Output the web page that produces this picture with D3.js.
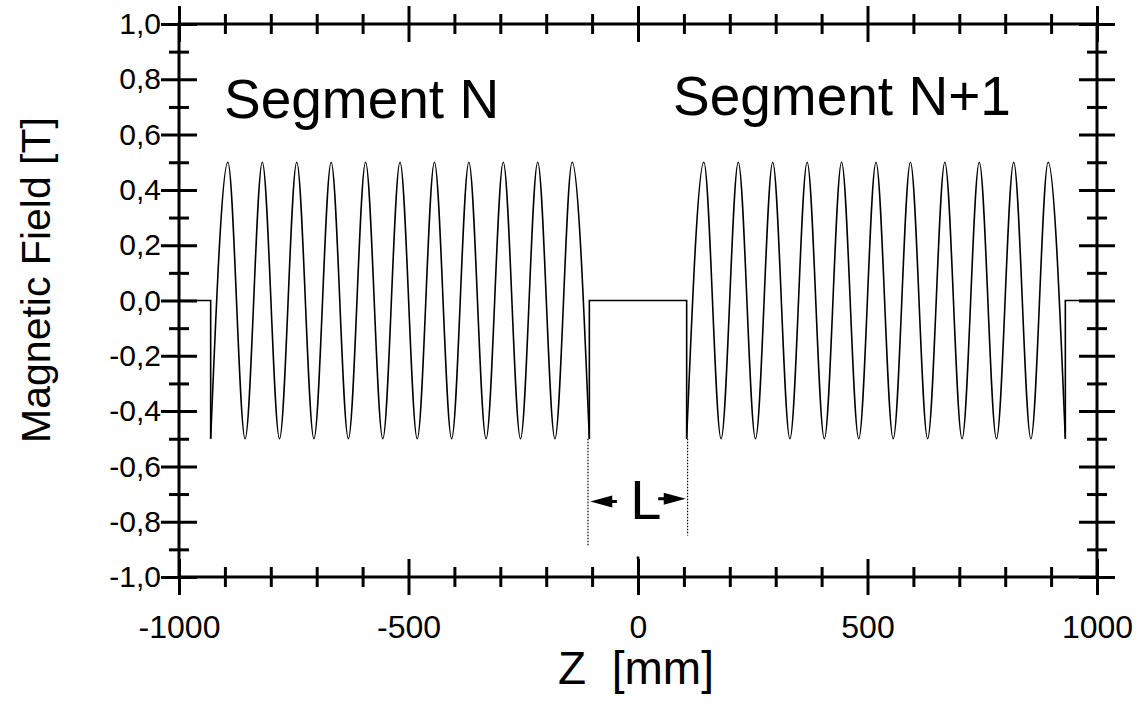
<!DOCTYPE html>
<html lang="en">
  <head>
    <meta charset="utf-8"/>
    <script src="https://d3js.org/d3.v7.min.js"></script>
    <style>
      body { margin: 0; background: #fff; }
      svg text { font-family: "Liberation Sans", Arial, sans-serif; fill: #000; }
    </style>
  </head>
  <body>
    <svg id="chart" width="1142" height="717"></svg>
  </body>
  <script>
    // field extrema (z in mm, B in T)
    const segNZ = [-931, -893.5, -856, -818.5, -781, -743.5, -706, -668.5, -631, -593.5, -556, -518.5,
                   -481, -443.5, -406, -368.5, -331, -293.5, -256, -218.5, -181, -143.5, -106];
    const segN1Z = [106, 143.5, 181, 218.5, 256, 293.5, 331, 368.5, 406, 443.5, 481, 518.5,
                    556, 593.5, 631, 668.5, 706, 743.5, 781, 818.5, 856, 893.5, 931];
    const segB = [-0.5, 0.5, -0.5, 0.5, -0.5, 0.5, -0.5, 0.5, -0.5, 0.5, -0.5, 0.5,
                  -0.5, 0.5, -0.5, 0.5, -0.5, 0.5, -0.5, 0.5, -0.5, 0.5, -0.5];
    // field-free parts: [z, B] corners
    const gapLeft = [[-1000, 0], [-931, 0], [-931, -0.5]];
    const gapMid = [[-106, -0.5], [-106, 0], [106, 0], [106, -0.5]];
    const gapRight = [[931, -0.5], [931, 0], [1000, 0]];

    const xMajor = [-1000, -500, 0, 500, 1000];
    const xMinor = [-900, -800, -700, -600, -400, -300, -200, -100, 100, 200, 300, 400, 600, 700, 800, 900];
    const yMajor = [-1, -0.8, -0.6, -0.4, -0.2, 0, 0.2, 0.4, 0.6, 0.8, 1];
    const yMinor = [-0.9, -0.7, -0.5, -0.3, -0.1, 0.1, 0.3, 0.5, 0.7, 0.9];
    const yLabels = ["-1,0", "-0,8", "-0,6", "-0,4", "-0,2", "0,0", "0,2", "0,4", "0,6", "0,8", "1,0"];

    const svg = d3.select("#chart");
    const x = d3.scaleLinear().domain([-1000, 1000]).range([179, 1097]);
    const y = d3.scaleLinear().domain([-1, 1]).range([577, 24]);

    const majorLen = 18, minorLen = 10;

    // draws one side: ticks crossing the frame line
    function side(axisFn, scale, values, len, transform, labels) {
      const ax = axisFn(scale).tickValues(values).tickSize(len);
      if (labels) ax.tickFormat((d, i) => labels[i]);
      else ax.tickFormat("");
      const g = svg.append("g").attr("transform", transform).call(ax);
      g.select(".domain").remove();
      const vertical = (axisFn === d3.axisLeft || axisFn === d3.axisRight);
      g.selectAll(".tick line")
        .attr("stroke", "#000").attr("stroke-width", 3)
        .attr(vertical ? "x1" : "y1", -len).attr(vertical ? "x2" : "y2", len);
      return g;
    }

    const left = side(d3.axisLeft, y, yMajor, majorLen, `translate(${x(-1000)},0)`, yLabels);
    left.selectAll(".tick text").attr("x", -18).attr("font-size", 30);
    side(d3.axisLeft, y, yMinor, minorLen, `translate(${x(-1000)},0)`, null);
    side(d3.axisRight, y, yMajor, majorLen, `translate(${x(1000)},0)`, null);
    side(d3.axisRight, y, yMinor, minorLen, `translate(${x(1000)},0)`, null);

    const bottom = side(d3.axisBottom, x, xMajor, majorLen, `translate(0,${y(-1)})`, xMajor.map(String));
    bottom.selectAll(".tick text").attr("y", 38).attr("dy", "0.71em").attr("font-size", 32);
    side(d3.axisBottom, x, xMinor, minorLen, `translate(0,${y(-1)})`, null);
    side(d3.axisTop, x, xMajor, majorLen, `translate(0,${y(1)})`, null);
    side(d3.axisTop, x, xMinor, minorLen, `translate(0,${y(1)})`, null);

    // frame
    svg.append("rect")
      .attr("x", x(-1000)).attr("y", y(1))
      .attr("width", x(1000) - x(-1000)).attr("height", y(-1) - y(1))
      .attr("fill", "none").attr("stroke", "#000").attr("stroke-width", 3);

    // field trace
    const smooth = d3.line().x(d => x(d[0])).y(d => y(d[1])).curve(d3.curveMonotoneX);
    const straight = d3.line().x(d => x(d[0])).y(d => y(d[1]));
    const traces = svg.append("g").attr("fill", "none").attr("stroke", "#000").attr("stroke-width", 1.6);
    traces.append("path").attr("d", smooth(segNZ.map((z, i) => [z, segB[i]])));
    traces.append("path").attr("d", smooth(segN1Z.map((z, i) => [z, segB[i]])));
    [gapLeft, gapMid, gapRight].forEach(p => traces.append("path").attr("d", straight(p)));

    // dotted markers of the gap length
    const dotted = [[-109, -0.5, -0.89], [108, -0.5, -0.85]];
    svg.selectAll(".dots").data(dotted).enter().append("line")
      .attr("x1", d => x(d[0])).attr("x2", d => x(d[0]))
      .attr("y1", d => y(d[1])).attr("y2", d => y(d[2]))
      .attr("stroke", "#000").attr("stroke-width", 1.2).attr("stroke-dasharray", "1.5,1.5");

    svg.append("circle").attr("cx", x(0)).attr("cy", y(-0.93)).attr("r", 1.5).attr("fill", "#000");

    // arrows: [tail z, tip z, B]
    const arrows = [[-46, -104, -0.727], [44, 104, -0.717]];
    arrows.forEach(a => {
      const x0 = x(a[0]), x1 = x(a[1]), yy = y(a[2]);
      const dir = Math.sign(x1 - x0);
      svg.append("line").attr("x1", x0).attr("x2", x1 - dir * 10).attr("y1", yy).attr("y2", yy)
        .attr("stroke", "#000").attr("stroke-width", 3);
      svg.append("path")
        .attr("d", `M${x1},${yy} L${x1 - dir * 22},${yy - 6} L${x1 - dir * 22},${yy + 6} Z`)
        .attr("fill", "#000");
    });

    svg.append("text").attr("x", x(17)).attr("y", y(-0.79))
      .attr("text-anchor", "middle").attr("font-size", 56).text("L");

    svg.append("text").attr("x", 224).attr("y", 118).attr("font-size", 55).text("Segment N");
    svg.append("text").attr("x", 673).attr("y", 115).attr("font-size", 55).text("Segment N+1");

    svg.append("text").attr("x", 636).attr("y", 684).attr("text-anchor", "middle")
      .attr("font-size", 46).attr("xml:space", "preserve").style("white-space", "pre").text("Z  [mm]");
    svg.append("text").attr("transform", "translate(50,280) rotate(-90)")
      .attr("text-anchor", "middle").attr("font-size", 41).text("Magnetic Field [T]");
  </script>
</html>
